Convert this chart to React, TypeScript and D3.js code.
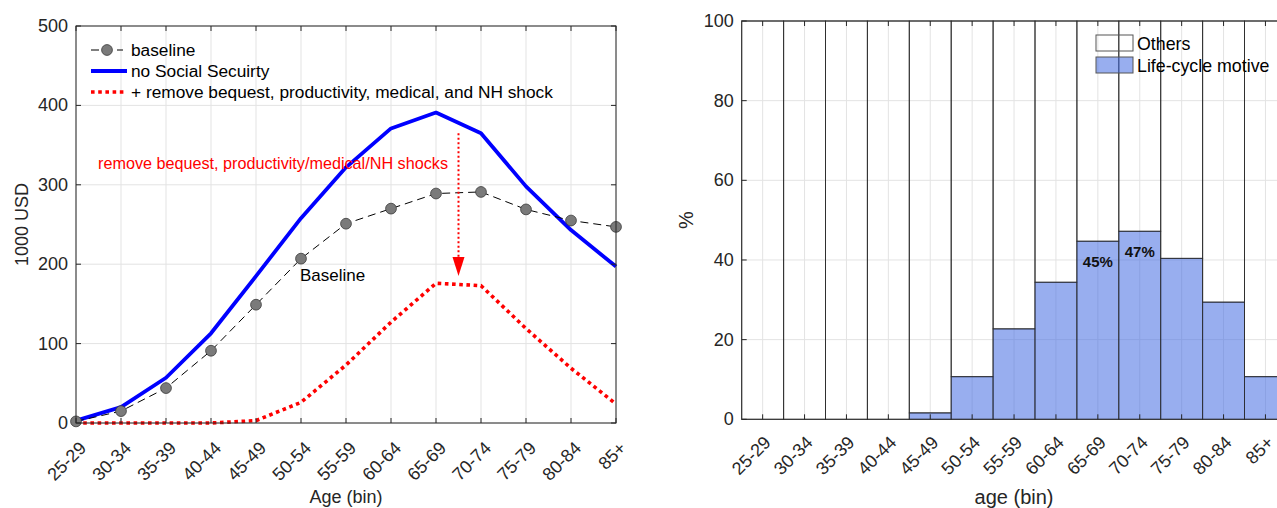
import React from "react";
import * as d3 from "d3";

const ageBins = ["25-29","30-34","35-39","40-44","45-49","50-54","55-59","60-64","65-69","70-74","75-79","80-84","85+"];
const baseline = [2, 15, 44, 91, 149, 207, 251, 270, 289, 291, 269, 255, 247];
const noSocialSecurity = [3, 20, 57, 113, 185, 258, 322, 371, 391, 365, 298, 243, 197];
const removeShocks = [0, 0, 0, 0, 3, 26, 73, 127, 176, 173, 119, 69, 24];
const leftYTicks = [0, 100, 200, 300, 400, 500];

const lifeCycleShare = [0, 0, 0, 0, 1.6, 10.7, 22.7, 34.4, 44.7, 47.2, 40.4, 29.4, 10.7];
const rightYTicks = [0, 20, 40, 60, 80, 100];
const barLabels = [{ bin: "65-69", text: "45%" }, { bin: "70-74", text: "47%" }];

const FONT = "'Liberation Sans', Arial, Helvetica, sans-serif";
const AX = "#262626";
const GRID = "#e3e3e3";

export default function App() {
  // Left panel
  const L = { left: 76, right: 616, top: 26, bottom: 423 };
  const xL = d3.scalePoint<string>().domain(ageBins).range([L.left, L.right]).padding(0);
  const yL = d3.scaleLinear().domain([0, 500]).range([L.bottom, L.top]);
  const lineGen = (vals: number[]) =>
    d3.line<number>().x((_, i) => xL(ageBins[i]) as number).y((v) => yL(v))(vals) as string;

  const arrowX = ((xL("65-69") as number) + (xL("70-74") as number)) / 2;
  const arrowTop = yL(365);
  const arrowTip = yL(185);

  // Right panel
  const R = { left: 741.7, right: 741.7 + 13 * 41.9, top: 21, bottom: 419.3 };
  const xR = d3.scaleBand<string>().domain(ageBins).range([R.left, R.right]).padding(0);
  const yR = d3.scaleLinear().domain([0, 100]).range([R.bottom, R.top]);
  const bw = xR.bandwidth();

  const tickLen = 5;
  const lblDx = 7;
  const lblDy = 22;

  return (
    <div style={{ position: "absolute", left: 0, top: 0 }}>
      <svg width={1277} height={508} style={{ display: "block", fontFamily: FONT }}>
        <rect x={0} y={0} width={1277} height={508} fill="#fff" />
        {/* ================= LEFT PANEL ================= */}
        <g>
          {ageBins.map((b) => (
            <line key={"gx" + b} x1={xL(b)} x2={xL(b)} y1={L.top} y2={L.bottom} stroke={GRID} strokeWidth={1} />
          ))}
          {leftYTicks.map((t) => (
            <line key={"gy" + t} x1={L.left} x2={L.right} y1={yL(t)} y2={yL(t)} stroke={GRID} strokeWidth={1} />
          ))}
          {/* series */}
          <path d={lineGen(noSocialSecurity)} fill="none" stroke="#0000ff" strokeWidth={3.8} strokeLinejoin="round" />
          <path d={lineGen(removeShocks)} fill="none" stroke="#ff0000" strokeWidth={3.6} strokeDasharray="3.6,3.6" />
          <path d={lineGen(baseline)} fill="none" stroke="#000" strokeWidth={1} strokeDasharray="8,5" />
          {baseline.map((v, i) => (
            <circle key={"c" + i} cx={xL(ageBins[i])} cy={yL(v)} r={5.4} fill="#7a7a7a" stroke="#3a3a3a" strokeWidth={0.8} />
          ))}
          {/* annotation arrow */}
          <line x1={arrowX} x2={arrowX} y1={arrowTop} y2={arrowTip - 16} stroke="#ff0000" strokeWidth={2} strokeDasharray="2,2.5" />
          <path d={`M${arrowX - 6},${arrowTip - 19} L${arrowX + 6},${arrowTip - 19} L${arrowX},${arrowTip} Z`} fill="#ff0000" />
          <text x={98} y={169} fontSize={16.2} fill="#ff0000">remove bequest, productivity/medical/NH shocks</text>
          <text x={300} y={281} fontSize={17} fill="#000">Baseline</text>
          {/* axes box */}
          <rect x={L.left} y={L.top} width={L.right - L.left} height={L.bottom - L.top} fill="none" stroke={AX} strokeWidth={1} />
          {ageBins.map((b) => (
            <g key={"tx" + b}>
              <line x1={xL(b)} x2={xL(b)} y1={L.bottom} y2={L.bottom - tickLen} stroke={AX} />
              <line x1={xL(b)} x2={xL(b)} y1={L.top} y2={L.top + tickLen} stroke={AX} />
              <text
                transform={`translate(${(xL(b) as number) + lblDx},${L.bottom + lblDy}) rotate(-45)`}
                textAnchor="end"
                dominantBaseline="central"
                fontSize={18}
                fill={AX}
              >
                {b}
              </text>
            </g>
          ))}
          {leftYTicks.map((t) => (
            <g key={"ty" + t}>
              <line x1={L.left} x2={L.left + tickLen} y1={yL(t)} y2={yL(t)} stroke={AX} />
              <line x1={L.right} x2={L.right - tickLen} y1={yL(t)} y2={yL(t)} stroke={AX} />
              <text x={L.left - 8} y={yL(t)} textAnchor="end" dominantBaseline="central" fontSize={18} fill={AX}>
                {t}
              </text>
            </g>
          ))}
          <text transform={`translate(22,${(L.top + L.bottom) / 2}) rotate(-90)`} textAnchor="middle" dominantBaseline="central" fontSize={18} fill={AX}>
            1000 USD
          </text>
          <text x={(L.left + L.right) / 2} y={503} textAnchor="middle" fontSize={18} fill={AX}>
            Age (bin)
          </text>
          {/* legend */}
          <g>
            <line x1={91} x2={123} y1={50} y2={50} stroke="#000" strokeWidth={1} strokeDasharray="8,5" />
            <circle cx={107} cy={50} r={5.4} fill="#7a7a7a" stroke="#3a3a3a" strokeWidth={0.8} />
            <text x={131} y={50} dominantBaseline="central" fontSize={17.3} fill="#000">baseline</text>
            <line x1={91} x2={127} y1={71} y2={71} stroke="#0000ff" strokeWidth={3.8} />
            <text x={131} y={71} dominantBaseline="central" fontSize={17.3} fill="#000">no Social Secuirty</text>
            <line x1={91} x2={127} y1={92} y2={92} stroke="#ff0000" strokeWidth={3.6} strokeDasharray="3.6,3.6" />
            <text x={131} y={92} dominantBaseline="central" fontSize={17.3} fill="#000">+ remove bequest, productivity, medical, and NH shock</text>
          </g>
        </g>

        {/* ================= RIGHT PANEL ================= */}
        <g>
          {ageBins.map((b) => {
            const cx = (xR(b) as number) + bw / 2;
            return <line key={"rgx" + b} x1={cx} x2={cx} y1={R.top} y2={R.bottom} stroke={GRID} strokeWidth={1} />;
          })}
          {rightYTicks.map((t) => (
            <line key={"rgy" + t} x1={R.left} x2={R.right} y1={yR(t)} y2={yR(t)} stroke={GRID} strokeWidth={1} />
          ))}
          {ageBins.map((b, i) => {
            const x0 = xR(b) as number;
            const v = lifeCycleShare[i];
            return (
              <g key={"bar" + b}>
                <rect x={x0} y={yR(100)} width={bw} height={yR(v) - yR(100)} fill="none" stroke="#2a2a2a" strokeOpacity={0.85} strokeWidth={1} />
                {v > 0 && (
                  <rect x={x0} y={yR(v)} width={bw} height={yR(0) - yR(v)} fill="#4169e1" fillOpacity={0.54} stroke="#2a2a2a" strokeOpacity={0.85} strokeWidth={1} />
                )}
              </g>
            );
          })}
          {barLabels.map((l) => {
            const i = ageBins.indexOf(l.bin);
            const cx = (xR(l.bin) as number) + bw / 2;
            return (
              <text key={"bl" + l.bin} x={cx} y={yR(lifeCycleShare[i]) + 20} textAnchor="middle" dominantBaseline="central" fontSize={15} fontWeight="bold" fill="#111">
                {l.text}
              </text>
            );
          })}
          {/* axes */}
          <rect x={R.left} y={R.top} width={R.right - R.left} height={R.bottom - R.top} fill="none" stroke={AX} strokeOpacity={0.8} strokeWidth={1} />
          {ageBins.map((b) => {
            const cx = (xR(b) as number) + bw / 2;
            return (
              <g key={"rtx" + b}>
                <line x1={cx} x2={cx} y1={R.bottom} y2={R.bottom - tickLen} stroke={AX} />
                <line x1={cx} x2={cx} y1={R.top} y2={R.top + tickLen} stroke={AX} />
                <text
                  transform={`translate(${cx + lblDx - 2},${R.bottom + lblDy - 2}) rotate(-45)`}
                  textAnchor="end"
                  dominantBaseline="central"
                  fontSize={18}
                  fill={AX}
                >
                  {b}
                </text>
              </g>
            );
          })}
          {rightYTicks.map((t) => (
            <g key={"rty" + t}>
              <line x1={R.left} x2={R.left + tickLen} y1={yR(t)} y2={yR(t)} stroke={AX} />
              <text x={R.left - 8} y={yR(t)} textAnchor="end" dominantBaseline="central" fontSize={18} fill={AX}>
                {t}
              </text>
            </g>
          ))}
          <text transform={`translate(686,${(R.top + R.bottom) / 2}) rotate(-90)`} textAnchor="middle" dominantBaseline="central" fontSize={20} fill={AX}>
            %
          </text>
          <text x={(R.left + R.right) / 2} y={504} textAnchor="middle" fontSize={20} fill={AX}>
            age (bin)
          </text>
          {/* legend */}
          <g>
            <rect x={1096} y={35} width={37} height={16} fill="none" stroke="#555" strokeWidth={1} />
            <text x={1137} y={43.5} dominantBaseline="central" fontSize={17.8} fill="#000">Others</text>
            <rect x={1096} y={57} width={37} height={16} fill="#4169e1" fillOpacity={0.54} stroke="#555" strokeWidth={1} />
            <text x={1137} y={65.5} dominantBaseline="central" fontSize={17.8} fill="#000">Life-cycle motive</text>
          </g>
        </g>
      </svg>
    </div>
  );
}
